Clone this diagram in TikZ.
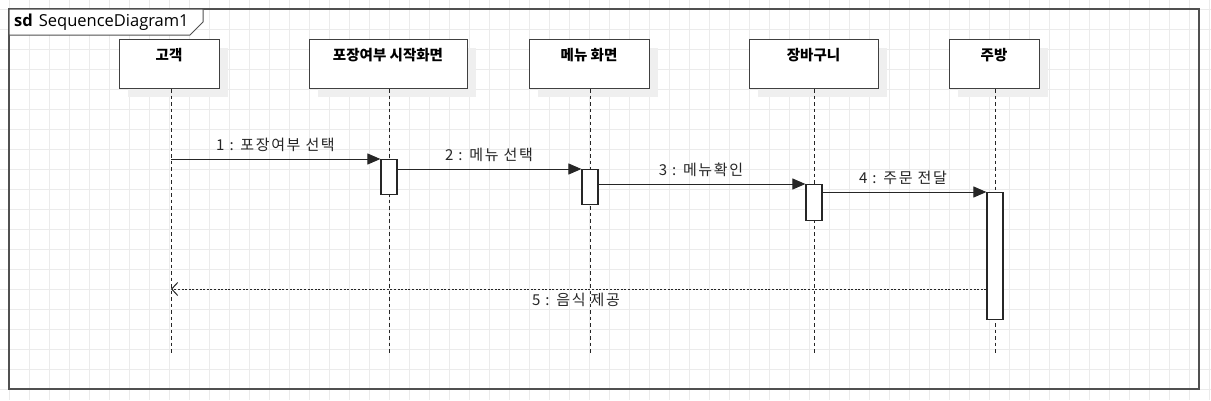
\documentclass[tikz,border=0pt]{standalone}
\usepackage{fontspec}
\setmainfont{Noto Sans CJK KR}
\newfontfamily\latinsans{Open Sans}
\usetikzlibrary{arrows.meta}
\definecolor{gridc}{HTML}{EBEBEB}
\definecolor{framec}{HTML}{505050}
\definecolor{boxc}{HTML}{404040}
\definecolor{shadowc}{HTML}{EFEFEF}
\tikzset{
  gridline/.style={draw=gridc, line width=0.8pt},
  lifebox/.style={draw=boxc, fill=white, line width=1.2pt, rectangle, inner sep=0pt, anchor=north west},
  lifetitle/.style={font=\fontsize{14.5}{18}\selectfont\bfseries, anchor=center, inner sep=0pt},
  lifeline/.style={draw=black!85, line width=1pt, dash pattern=on 3.5pt off 3pt},
  actbox/.style={draw=black!85, fill=white, line width=1.2pt, rectangle, inner sep=0pt, minimum width=16pt, anchor=north},
  msg/.style={draw=black!85, line width=1pt, -{Triangle[length=13pt,width=11pt]}},
  retmsg/.style={draw=black!85, line width=1pt, dash pattern=on 2pt off 1.6pt, -{Straight Barb[length=6pt,width=13pt,line width=1pt]}},
  msglabel/.style={font=\fontsize{15}{18}\selectfont\addfontfeature{LetterSpace=11}, inner sep=0pt, text=black!85},
}
\begin{document}
\begin{tikzpicture}[x=1pt,y=-1pt]
\useasboundingbox (0,0) rectangle (1211,400);
\fill[white] (0,0) rectangle (1211,400);
% grid
\foreach \gx in {9,29,...,1209} \draw[gridline] (\gx,0) -- (\gx,400);
\foreach \gy in {9,29,...,389} \draw[gridline] (0,\gy) -- (1211,\gy);
% frame
\draw[framec, line width=1.6pt] (9,9) rectangle (1199,389);
\filldraw[fill=white, draw=framec, line width=1pt] (9,9) -- (203,9) -- (203,22) -- (190,35) -- (9,35) -- cycle;
\node[anchor=west, inner sep=0pt, font=\latinsans\fontsize{16.5}{18}\selectfont] (sdtitle) at (14,22) {\textbf{sd}\hspace{6pt}SequenceDiagram1};
% lifeline boxes with shadows
\foreach \nm/\lx/\rx in {c/119/219, p/309/467, m/529/649, b/749/878, k/949/1039}{
  \fill[shadowc] (\lx+9,48) rectangle (\rx+9,97);
}
\node[lifebox, minimum width=100pt, minimum height=49pt] (bc) at (119,39) {};
\node[lifebox, minimum width=158pt, minimum height=49pt] (bp) at (309,39) {};
\node[lifebox, minimum width=120pt, minimum height=49pt] (bm) at (529,39) {};
\node[lifebox, minimum width=129pt, minimum height=49pt] (bb) at (749,39) {};
\node[lifebox, minimum width=90pt, minimum height=49pt] (bk) at (949,39) {};
\node[lifetitle] (tc) at (169,55) {고객};
\node[lifetitle] (tp) at (388,55) {포장여부 시작화면};
\node[lifetitle] (tm) at (589,55) {메뉴 화면};
\node[lifetitle] (tb) at (813.5,55) {장바구니};
\node[lifetitle] (tk) at (994,55) {주방};
% lifeline ends
\coordinate (ec) at (171,355);
\coordinate (ep) at (389,355);
\coordinate (em) at (590,355);
\coordinate (eb) at (814,355);
\coordinate (ek) at (995,355);
\draw[lifeline] (bc.south -| ec) -- (ec);
\draw[lifeline] (bp.south -| ep) -- (ep);
\draw[lifeline] (bm.south -| em) -- (em);
\draw[lifeline] (bb.south -| eb) -- (eb);
\draw[lifeline] (bk.south -| ek) -- (ek);
% activations
\node[actbox, minimum height=35pt] (ap) at (389,159) {};
\node[actbox, minimum height=35pt] (am) at (590,169) {};
\node[actbox, minimum height=35.5pt] (ab) at (814,184) {};
\node[actbox, minimum height=127pt] (ak) at (995,192) {};
% messages
\coordinate (s1) at (171,159);
\draw[msg] (s1) -- (ap.north west);
\draw[msg] ([yshift=-10pt]ap.north east) -- (am.north west);
\draw[msg] ([yshift=-15pt]am.north east) -- (ab.north west);
\draw[msg] ([yshift=-8pt]ab.north east) -- (ak.north west);
\coordinate (r5) at (171,289);
\draw[retmsg] (ak.west |- r5) -- (r5);
% labels
\node[msglabel] (l1) at (275.5,145) {1 : 포장여부 선택};
\node[msglabel] (l2) at (489,155) {2 : 메뉴 선택};
\node[msglabel] (l3) at (701,170) {3 : 메뉴확인};
\node[msglabel] (l4) at (903,178) {4 : 주문 전달};
\node[msglabel] (l5) at (576,300) {5 : 음식 제공};
\end{tikzpicture}
\end{document}
